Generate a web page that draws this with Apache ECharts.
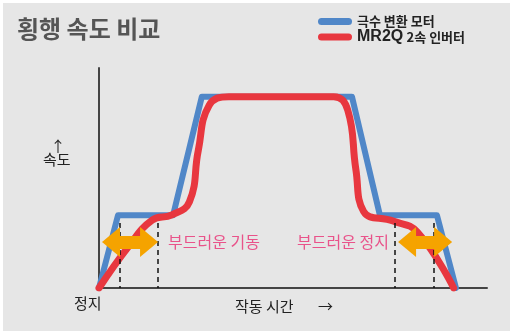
<!DOCTYPE html>
<html>
<head>
<meta charset="utf-8">
<script src="https://cdn.jsdelivr.net/npm/echarts@6/dist/echarts.min.js"></script>
<style>
  html, body { margin: 0; padding: 0; background: #fff; }
  #bg { position: absolute; left: 3px; top: 3px; width: 507px; height: 328px; background: #e6e6e6; }
  #chart { position: absolute; left: 0; top: 0; width: 510px; height: 331px; }
</style>
</head>
<body>
<div id="bg"></div>
<div id="chart"></div>
<script>
// 시간(0~100) / 속도(최고속 = 100)
const poleTime = [0, 4.9, 19.1, 26.5, 65.2, 72.4, 87.1, 92.0];
const poleSpeed = [0, 38, 38, 100, 100, 38, 38, 0];

const invTime = [0, 7.5, 13.7, 18.8, 23.3, 25.6, 28.4, 33.5, 60.5, 64.1, 66.2, 68.2, 75.8, 82.0, 91.4];
const invSpeed = [0, 21.4, 35.5, 38.2, 45.0, 72.0, 95.5, 100, 100, 93.0, 62.0, 40.0, 35.0, 29.3, 0];

const seriesNames = ['극수 변환 모터', 'MR2Q 2속 인버터'];

// 보조선 / 화살표 위치 (시간축)
const guideTimes = [5.4, 15.2, 76.3, 86.3];
const guideTop = 34;
const arrowRanges = [[3.1, 12.9], [79.4, 88.7]];
const arrowLevel = 24;

const zip = (xs, ys) => xs.map((x, i) => [x, ys[i]]);

const chart = echarts.init(document.getElementById('chart'));
const FONT = '"Noto Sans CJK KR", sans-serif';

const option = {
  animation: false,
  title: {
    text: '횡행 속도 비교',
    left: 17, top: 17, padding: 0,
    textStyle: { fontSize: 24, fontWeight: 'bold', color: '#555', fontFamily: FONT }
  },
  legend: {
    orient: 'vertical',
    left: 318, top: 15,
    padding: 0,
    itemGap: 1,
    itemWidth: 34, itemHeight: 7,
    icon: 'path://M3.5,0L30.5,0A3.5,3.5,0,0,1,30.5,7L3.5,7A3.5,3.5,0,0,1,3.5,0Z',
    data: seriesNames,
    formatter: function (name) {
      if (name === seriesNames[0]) return '{k|' + name + '}';
      const parts = name.split(' ');
      return '{e|' + parts[0] + '} {k|' + parts.slice(1).join(' ') + '}';
    },
    textStyle: {
      rich: {
        k: { fontSize: 13, fontWeight: 'bold', color: '#222', fontFamily: FONT, lineHeight: 20 },
        e: { fontSize: 16, fontWeight: 'bold', color: '#222', fontFamily: '"Liberation Sans", Arial, sans-serif', lineHeight: 20 }
      }
    }
  },
  grid: { left: 99, top: 68, width: 388, height: 220 },
  xAxis: {
    type: 'value', min: 0, max: 100,
    axisLine: { show: true, lineStyle: { color: '#444', width: 2 } },
    axisTick: { show: false }, axisLabel: { show: false }, splitLine: { show: false }
  },
  yAxis: {
    type: 'value', min: 0, max: 115,
    axisLine: { show: true, lineStyle: { color: '#444', width: 2 } },
    axisTick: { show: false }, axisLabel: { show: false }, splitLine: { show: false }
  },
  series: [
    {
      name: 'guides', type: 'line', data: [], z: 1, silent: true,
      markLine: {
        silent: true, symbol: 'none', label: { show: false },
        lineStyle: { color: '#111', width: 1.5, type: [5, 4] },
        data: guideTimes.map(t => [{ coord: [t, guideTop] }, { coord: [t, 0] }])
      }
    },
    {
      name: seriesNames[0], type: 'line', z: 2,
      data: zip(poleTime, poleSpeed),
      showSymbol: false, symbol: 'none',
      lineStyle: { color: '#5087C8', width: 6, cap: 'round', join: 'round' },
      itemStyle: { color: '#5087C8' }
    },
    {
      name: seriesNames[1], type: 'line', z: 3,
      data: zip(invTime, invSpeed),
      smooth: 0.45,
      showSymbol: false, symbol: 'none',
      lineStyle: { color: '#E8373F', width: 7, cap: 'round', join: 'round' },
      itemStyle: { color: '#E8373F' }
    },
    {
      name: 'arrows', type: 'line', data: [], z: 5, silent: true,
      markLine: {
        silent: true, symbol: ['triangle', 'triangle'], symbolSize: [30, 18],
        label: { show: false },
        lineStyle: { color: '#F5A300', width: 13, type: 'solid', opacity: 1 },
        itemStyle: { color: '#F5A300' },
        data: arrowRanges.map(r => [{ coord: [r[0], arrowLevel] }, { coord: [r[1], arrowLevel] }])
      }
    }
  ],
  graphic: [
    { type: 'text', x: 168, y: 242, style: { text: '부드러운 기동', fontSize: 16, fontFamily: FONT, fill: '#E9538A', verticalAlign: 'middle' } },
    { type: 'text', x: 297, y: 242, style: { text: '부드러운 정지', fontSize: 16, fontFamily: FONT, fill: '#E9538A', verticalAlign: 'middle' } },
    { type: 'text', x: 74, y: 303, style: { text: '정지', fontSize: 15, fontFamily: FONT, fill: '#222', verticalAlign: 'middle' } },
    { type: 'text', x: 235, y: 306, style: { text: '작동 시간', fontSize: 15, fontFamily: FONT, fill: '#222', verticalAlign: 'middle' } },
    { type: 'text', x: 318, y: 306, style: { text: '→', fontSize: 15, fontFamily: FONT, fill: '#222', verticalAlign: 'middle' } },
    { type: 'text', x: 58, y: 146, style: { text: '↑', fontSize: 15, fontFamily: FONT, fill: '#222', align: 'center', verticalAlign: 'middle' } },
    { type: 'text', x: 43, y: 159, style: { text: '속도', fontSize: 15, fontFamily: FONT, fill: '#222', verticalAlign: 'middle' } }
  ]
};

chart.setOption(option);
</script>
</body>
</html>
